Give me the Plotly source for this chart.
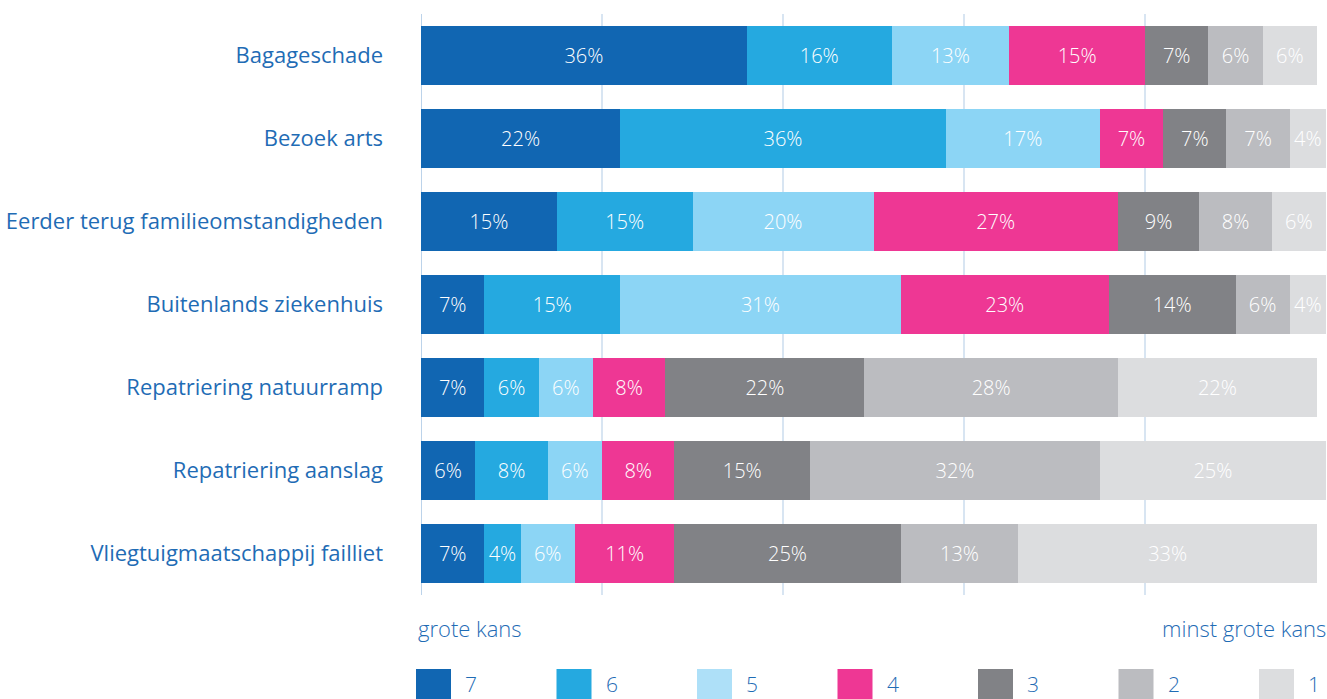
import plotly.graph_objects as go

categories = [
    "Bagageschade",
    "Bezoek arts",
    "Eerder terug familieomstandigheden",
    "Buitenlands ziekenhuis",
    "Repatriering natuurramp",
    "Repatriering aanslag",
    "Vliegtuigmaatschappij failliet",
]
series_names = ["7", "6", "5", "4", "3", "2", "1"]
s7 = [36, 22, 15, 7, 7, 6, 7]
s6 = [16, 36, 15, 15, 6, 8, 4]
s5 = [13, 17, 20, 31, 6, 6, 6]
s4 = [15, 7, 27, 23, 8, 8, 11]
s3 = [7, 7, 9, 14, 22, 15, 25]
s2 = [6, 7, 8, 6, 28, 32, 13]
s1 = [6, 4, 6, 4, 22, 25, 33]
series_values = [s7, s6, s5, s4, s3, s2, s1]
colors = ["#1166b2", "#25a9e0", "#8cd5f5", "#ee3794", "#818286", "#bbbcc0", "#dcdddf"]
legend_colors = ["#1166b2", "#25a9e0", "#aee0f8", "#ee3794", "#818286", "#bbbcc0", "#dcdddf"]
left_note = "grote kans"
right_note = "minst grote kans"

FONT = "Open Sans"
TXT = "#1f6cb5"

fig = go.Figure()
for name, vals, col in zip(series_names, series_values, colors):
    fig.add_trace(go.Bar(
        y=categories, x=vals, name=name, orientation="h",
        marker=dict(color=col, line=dict(width=0)),
        text=[f"{v}%" for v in vals],
        textposition="inside", insidetextanchor="middle",
        constraintext="none",
        textfont=dict(color="white", size=20, family=FONT, weight=300),
        hoverinfo="skip",
        showlegend=False,
    ))

W, H = 1327, 699
ml, mr, mt, mb = 421, 1, 14, 104
pw, ph = W - ml - mr, H - mt - mb

def px2x(px):
    return (px - ml) / pw

def py2y(py):
    return (H - mb - py) / ph

shapes = []
annotations = []
leg_x0 = 416
leg_step = 140.5
for i, (name, col) in enumerate(zip(series_names, legend_colors)):
    x0 = leg_x0 + i * leg_step
    shapes.append(dict(type="rect", xref="paper", yref="paper",
                       x0=px2x(x0), x1=px2x(x0 + 35), y0=py2y(704), y1=py2y(669),
                       fillcolor=col, line=dict(width=0)))
    annotations.append(dict(xref="paper", yref="paper", x=px2x(x0 + 47), y=py2y(684),
                            text=name, showarrow=False, xanchor="left", yanchor="middle",
                            font=dict(size=21, color=TXT, family=FONT, weight=300)))

annotations.append(dict(xref="paper", yref="paper", x=px2x(416), y=py2y(628),
                        text=left_note, showarrow=False, xanchor="left", yanchor="middle",
                        font=dict(size=22, color=TXT, family=FONT, weight=300)))
annotations.append(dict(xref="paper", yref="paper", x=px2x(1328), y=py2y(628),
                        text=right_note, showarrow=False, xanchor="right", yanchor="middle",
                        font=dict(size=22, color=TXT, family=FONT, weight=300)))

fig.update_layout(
    width=W, height=H,
    margin=dict(l=ml, r=mr, t=mt, b=mb, pad=0),
    barmode="stack", bargap=0.28,
    plot_bgcolor="white", paper_bgcolor="white",
    font=dict(family=FONT, color=TXT),
    xaxis=dict(range=[0, 100], tickvals=[0, 20, 40, 60, 80, 100], showticklabels=False,
               showgrid=True, gridcolor="#d8e5f2", gridwidth=2, zeroline=False,
               showline=False, fixedrange=True),
    yaxis=dict(autorange="reversed", showgrid=False, zeroline=False, showline=False,
               ticks="", ticklabelstandoff=37, fixedrange=True,
               tickfont=dict(size=22, color=TXT, family=FONT, weight=400)),
    shapes=shapes + [dict(type="line", xref="x", yref="paper", x0=0, x1=0, y0=0, y1=1,
                          line=dict(color="#bcd3ea", width=2), layer="below")],
    annotations=annotations,
)

fig.write_html(
    "out.html",
    config={"displayModeBar": False},
    post_script="document.body.style.margin='0';document.body.style.overflow='hidden';",
)
